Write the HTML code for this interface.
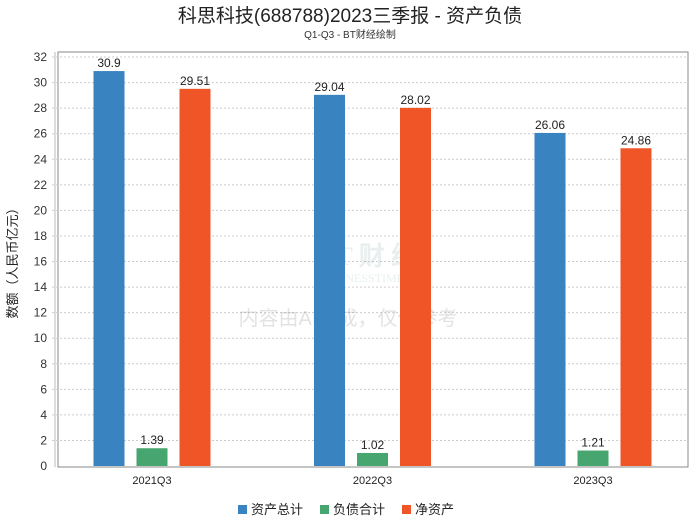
<!DOCTYPE html>
<html><head><meta charset="utf-8">
<style>
body{margin:0;background:#fff;width:700px;height:524px;overflow:hidden;font-family:"Liberation Sans","Noto Sans CJK SC",sans-serif;}
</style></head>
<body>
<svg id="chart" width="700" height="524" xmlns="http://www.w3.org/2000/svg" font-family="Liberation Sans, Noto Sans CJK SC, sans-serif">
<text x="350" y="22" text-anchor="middle" font-size="19" fill="#222">科思科技(688788)2023三季报 - 资产负债</text>
<text x="350" y="38" text-anchor="middle" font-size="10" fill="#333">Q1-Q3 - BT财经绘制</text>
<rect x="58" y="52" width="630" height="415" fill="#fff" stroke="#888"/>
<line x1="55" y1="52" x2="55" y2="467" stroke="#bbb"/>
<g id="grid"></g>
<g id="watermark" opacity="0.18">
<text x="318" y="265" font-size="26" fill="#8aa" font-family="Liberation Serif, serif" font-weight="bold">BT 财 经</text>
<text x="318" y="282" font-size="12" fill="#8aa" font-family="Liberation Serif, serif">BUSINESSTIMES</text>
<text x="348" y="325" text-anchor="middle" font-size="20" fill="#666">内容由AI生成，仅供参考</text>
</g>
<g id="bars"></g>
<text transform="translate(17,260) rotate(-90)" text-anchor="middle" font-size="13" fill="#222">数额（人民币亿元）</text>
<g id="legend"></g>
</svg>
<script>
const categories=["2021Q3","2022Q3","2023Q3"];
const seriesNames=["资产总计","负债合计","净资产"];
const totalAssets=[30.9,29.04,26.06];
const totalLiabilities=[1.39,1.02,1.21];
const netAssets=[29.51,28.02,24.86];
const yTicks=[0,2,4,6,8,10,12,14,16,18,20,22,24,26,28,30,32];
const colors=["#3a83c1","#47a56f","#ef5527"];
const NS="http://www.w3.org/2000/svg";
function y(v){return 466-v*(409/32);}
function xCenter(i){return 152+220.5*i;}
function mk(tag,attrs,parent){const e=document.createElementNS(NS,tag);for(const k in attrs)e.setAttribute(k,attrs[k]);parent.appendChild(e);return e;}
const grid=document.getElementById('grid');
yTicks.forEach(t=>{
  if(t>0){const l=mk('line',{x1:52,x2:688,y1:y(t),y2:y(t),stroke:'#ccc','stroke-dasharray':'2,2'},grid);
  
  }
  const tx=mk('text',{x:47,y:y(t)+4,'text-anchor':'end','font-size':12,fill:'#333'},grid);
  tx.textContent=t;
  
  
});
const bars=document.getElementById('bars');
const series=[totalAssets,totalLiabilities,netAssets];
categories.forEach((c,i)=>{
  series.forEach((s,j)=>{
    const cx=xCenter(i)+(j-1)*43;
    const r=mk('rect',{x:cx-15.5,y:y(s[i]),width:31,height:y(0)-y(s[i]),fill:colors[j]},bars);
    
    
    const t=mk('text',{x:cx,y:y(s[i])-4,'text-anchor':'middle','font-size':12,fill:'#222'},bars);
    t.textContent=s[i];
    
    
  });
  const lt=mk('text',{x:xCenter(i),y:484,'text-anchor':'middle','font-size':11,fill:'#222'},bars);
  lt.textContent=c;
  
  
});
const lg=document.getElementById('legend');
const lx=[238,320,402];
seriesNames.forEach((n,j)=>{
  const r=mk('rect',{x:lx[j],y:505,width:9,height:9,fill:colors[j]},lg);
  
  
  const t=mk('text',{x:lx[j]+13,y:514,'font-size':13,fill:'#222'},lg);
  t.textContent=n;
  
  
});
</script>
</body></html>
